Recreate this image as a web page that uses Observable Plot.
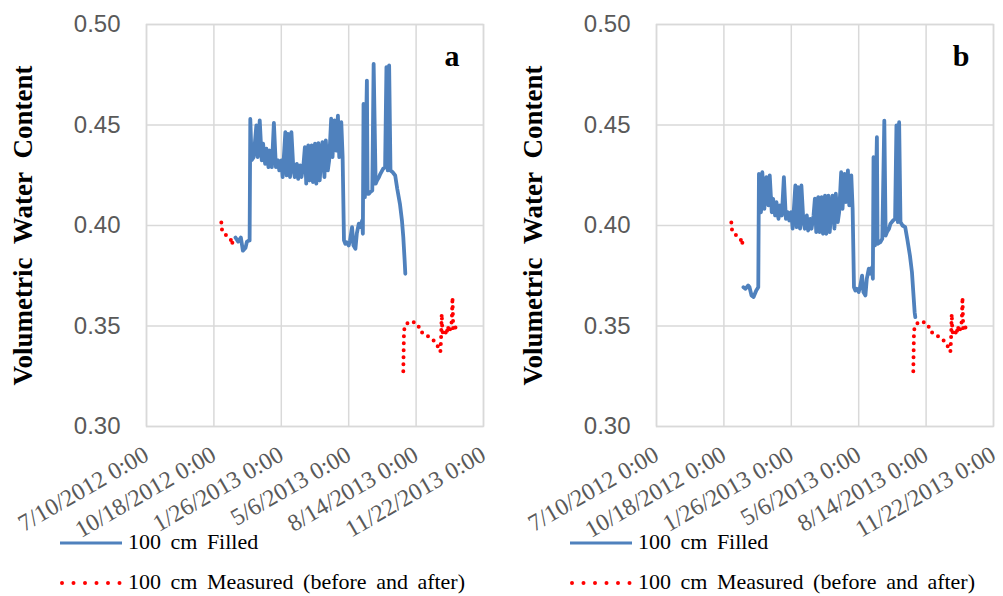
<!DOCTYPE html>
<html>
<head>
<meta charset="utf-8">
<script src="https://cdn.jsdelivr.net/npm/d3@7"></script>
<script src="https://cdn.jsdelivr.net/npm/@observablehq/plot@0.6"></script>
<style>
  body { margin: 0; background: #fff; }
  #wrap { position: relative; width: 1003px; height: 596px; overflow: hidden; background: #fff; }
  .panel { position: absolute; top: 0; }
  #legend { position: absolute; left: 0; top: 0; }
</style>
</head>
<body>
<div id="wrap"></div>
<script>
// ---------- data ----------
const xTickDates = ["2012-07-10", "2012-10-18", "2013-01-26", "2013-05-06", "2013-08-14", "2013-11-22"];
const xTickLabels = ["7/10/2012 0:00", "10/18/2012 0:00", "1/26/2013 0:00", "5/6/2013 0:00", "8/14/2013 0:00", "11/22/2013 0:00"];
const yTicks = [0.30, 0.35, 0.40, 0.45, 0.50];
const yTickLabels = ["0.30", "0.35", "0.40", "0.45", "0.50"];
const yTitle = "Volumetric Water Content";
const panelLetters = ["a", "b"];
const seriesLabels = ["100 cm Filled", "100 cm Measured (before and after)"];

// Panel a – 100 cm Filled
const filledDatesA = [
  "2012-11-19","2012-11-23","2012-11-27","2012-11-30","2012-12-04","2012-12-06","2012-12-09","2012-12-10",
  "2012-12-11","2012-12-13","2012-12-16","2012-12-20","2012-12-22","2012-12-25","2012-12-28","2012-12-30",
  "2013-01-02","2013-01-04","2013-01-07","2013-01-09","2013-01-12","2013-01-15","2013-01-18","2013-01-21",
  "2013-01-23","2013-01-26","2013-01-28","2013-02-01","2013-02-03","2013-02-05","2013-02-08","2013-02-10",
  "2013-02-13","2013-02-15","2013-02-18","2013-02-20","2013-02-23","2013-02-25","2013-02-28","2013-03-02",
  "2013-03-04","2013-03-07","2013-03-09","2013-03-12","2013-03-14","2013-03-17","2013-03-19","2013-03-22",
  "2013-03-24","2013-03-28","2013-03-31","2013-04-02","2013-04-05","2013-04-07","2013-04-10","2013-04-12",
  "2013-04-15","2013-04-17","2013-04-20","2013-04-22","2013-04-25","2013-04-27","2013-04-29","2013-05-01",
  "2013-05-03","2013-05-06","2013-05-08","2013-05-11","2013-05-13","2013-05-16","2013-05-18","2013-05-21",
  "2013-05-23","2013-05-26","2013-05-27","2013-05-28","2013-05-30","2013-06-02","2013-06-03","2013-06-05",
  "2013-06-07","2013-06-10","2013-06-12","2013-06-15","2013-06-17","2013-06-20","2013-06-22","2013-06-26",
  "2013-06-29","2013-07-01","2013-07-03","2013-07-05","2013-07-07","2013-07-10","2013-07-14","2013-07-17",
  "2013-07-21","2013-07-24","2013-07-26","2013-07-28","2013-07-29"
];
const filledValuesA = [
  0.394,0.392,0.394,0.3875,0.389,0.392,0.3925,0.3926,
  0.453,0.4325,0.434,0.4498,0.434,0.4523,0.4324,0.4407,
  0.4307,0.4382,0.429,0.4373,0.429,0.4511,0.429,0.4324,
  0.4274,0.4324,0.4241,0.4465,0.4249,0.4456,0.4241,0.4465,
  0.4274,0.4241,0.4307,0.4232,0.4299,0.4241,0.4307,0.439,
  0.4208,0.4398,0.4224,0.4398,0.4216,0.4407,0.4208,0.441,
  0.4224,0.4415,0.4241,0.4423,0.4274,0.4324,0.4531,0.434,
  0.4523,0.4373,0.4547,0.434,0.4514,0.434,0.3926,0.3909,
  0.3917,0.3901,0.3926,0.3992,0.3901,0.3884,0.3959,0.4009,
  0.3992,0.4025,0.3959,0.4605,0.4141,0.4721,0.4158,0.4158,
  0.4166,0.4174,0.4804,0.4208,0.4224,0.4241,0.4257,0.4282,
  0.429,0.4788,0.4274,0.4796,0.4274,0.4266,0.4249,0.4183,
  0.4108,0.4025,0.3942,0.3826,0.376
];

// Panel b – 100 cm Filled
const filledDatesB = [
  "2012-11-16","2012-11-19","2012-11-23","2012-11-25","2012-11-28","2012-12-01","2012-12-05","2012-12-08",
  "2012-12-09","2012-12-12","2012-12-14","2012-12-17","2012-12-20","2012-12-23","2012-12-25","2012-12-28",
  "2012-12-30","2013-01-02","2013-01-04","2013-01-07","2013-01-09","2013-01-12","2013-01-15","2013-01-18",
  "2013-01-21","2013-01-23","2013-01-26","2013-01-28","2013-02-01","2013-02-03","2013-02-05","2013-02-08",
  "2013-02-10","2013-02-13","2013-02-15","2013-02-18","2013-02-20","2013-02-23","2013-02-25","2013-02-28",
  "2013-03-02","2013-03-04","2013-03-07","2013-03-09","2013-03-12","2013-03-14","2013-03-17","2013-03-19",
  "2013-03-22","2013-03-24","2013-03-28","2013-03-31","2013-04-02","2013-04-05","2013-04-07","2013-04-10",
  "2013-04-12","2013-04-15","2013-04-17","2013-04-20","2013-04-22","2013-04-25","2013-04-27","2013-04-29",
  "2013-05-01","2013-05-03","2013-05-06","2013-05-08","2013-05-11","2013-05-13","2013-05-16","2013-05-18",
  "2013-05-21","2013-05-23","2013-05-26","2013-05-27","2013-05-28","2013-05-30","2013-06-02","2013-06-03",
  "2013-06-07","2013-06-10","2013-06-13","2013-06-15","2013-06-17","2013-06-20","2013-06-22","2013-06-26",
  "2013-06-29","2013-07-01","2013-07-03","2013-07-05","2013-07-07","2013-07-10","2013-07-14","2013-07-17",
  "2013-07-21","2013-07-24","2013-07-26","2013-07-28","2013-07-29"
];
const filledValuesB = [
  0.3693,0.3685,0.3702,0.3693,0.3652,0.3644,0.3677,0.3693,
  0.4257,0.4066,0.4265,0.4083,0.4241,0.41,0.4249,0.4066,
  0.4133,0.405,0.4116,0.4033,0.41,0.405,0.4241,0.4033,
  0.4066,0.4025,0.4066,0.3984,0.4199,0.3992,0.4191,0.3984,
  0.4199,0.4017,0.3984,0.405,0.3975,0.4033,0.3984,0.405,
  0.4133,0.3967,0.4141,0.3967,0.4141,0.3959,0.4149,0.3959,
  0.4149,0.3967,0.4149,0.3984,0.4158,0.4017,0.4066,0.4265,
  0.4083,0.4257,0.4116,0.4274,0.41,0.4249,0.4083,0.3693,
  0.3677,0.3685,0.3669,0.3693,0.3751,0.3669,0.3652,0.3735,
  0.3785,0.376,0.3793,0.3735,0.434,0.3901,0.4439,0.3909,
  0.3917,0.3934,0.4522,0.395,0.3967,0.3984,0.4008,0.4025,
  0.4033,0.4498,0.4017,0.4514,0.4017,0.40,0.3992,0.3934,
  0.3851,0.3768,0.3669,0.3569,0.3544
];

// 100 cm Measured (before and after) – same in both panels
const measuredDates = [
  "2012-10-29","2012-10-30","2012-11-01","2012-11-04","2012-11-07","2012-11-10","2012-11-13","2012-11-14","2012-11-15",
  "2013-07-26","2013-07-27","2013-07-28","2013-07-31","2013-08-03","2013-08-08","2013-08-13","2013-08-17",
  "2013-08-20","2013-08-25","2013-08-30","2013-09-04","2013-09-09","2013-09-14","2013-09-17","2013-09-19",
  "2013-09-20","2013-09-21","2013-09-22","2013-09-24","2013-09-26","2013-09-28","2013-09-30","2013-10-02",
  "2013-10-04","2013-10-06","2013-10-07","2013-10-08","2013-10-10","2013-10-12","2013-10-14"
];
const measuredValues = [
  0.4015,0.398,0.3965,0.3955,0.3945,0.3935,0.3925,0.3935,0.388,
  0.3275,0.347,0.3495,0.351,0.352,0.3522,0.3515,0.3505,
  0.3475,0.3462,0.3452,0.3442,0.3428,0.3405,0.339,0.3372,
  0.343,0.3561,0.347,0.3465,0.348,0.3455,0.350,0.347,
  0.349,0.3525,0.3643,0.349,0.3475,0.350,0.3478
];
const measuredPeriod = [
  "before","before","before","before","before","before","before","before","before",
  "after","after","after","after","after","after","after","after",
  "after","after","after","after","after","after","after","after",
  "after","after","after","after","after","after","after","after",
  "after","after","after","after","after","after","after"
];

// ---------- drawing ----------
const BLUE = "#4f81bd", RED = "#ff0000", GRID = "#d9d9d9", TICKTXT = "#595959";
const SERIF = "'Liberation Serif', 'Times New Roman', serif";
const SANS = "'Liberation Sans', Arial, sans-serif";

const tickDates = xTickDates.map(d => new Date(d));
const xLabelMap = new Map(tickDates.map((d, i) => [+d, xTickLabels[i]]));
const yLabelMap = new Map(yTicks.map((v, i) => [v, yTickLabels[i]]));
const measured = measuredDates.map((d, i) => ({date: new Date(d), v: measuredValues[i], p: measuredPeriod[i]}));

function panel(letter, dates, values) {
  const filled = dates.map((d, i) => ({date: new Date(d), v: values[i]}));
  return Plot.plot({
    width: 500,
    height: 520,
    marginLeft: 146,
    marginRight: 17,
    marginTop: 24,
    marginBottom: 94,
    style: {background: "transparent", overflow: "visible"},
    x: {type: "utc", domain: [tickDates[0], tickDates[tickDates.length - 1]]},
    y: {domain: [0.30, 0.50]},
    marks: [
      Plot.gridX(tickDates, {stroke: GRID, strokeOpacity: 1, strokeWidth: 1.5}),
      Plot.gridY(yTicks, {stroke: GRID, strokeOpacity: 1, strokeWidth: 1.5}),
      Plot.frame({stroke: GRID, strokeWidth: 1.5}),
      Plot.axisY(yTicks, {tickSize: 0, tickPadding: 26, fontSize: 24, fontFamily: SANS, fill: TICKTXT,
        tickFormat: v => yLabelMap.get(v), label: null}),
      Plot.axisX(tickDates, {tickSize: 0, tickPadding: 26, tickRotate: -30, fontSize: 24, fontFamily: SERIF,
        fill: TICKTXT, tickFormat: d => xLabelMap.get(+d), label: null}),
      Plot.line(filled, {x: "date", y: "v", stroke: BLUE, strokeWidth: 3.8, curve: "linear"}),
      Plot.line(measured, {x: "date", y: "v", z: "p", stroke: RED, strokeWidth: 4,
        strokeDasharray: "0 7", strokeLinecap: "round"}),
      Plot.text([letter], {frameAnchor: "top-right", dx: -24, dy: 41, lineAnchor: "bottom",
        fontSize: 30, fontWeight: "bold", fontFamily: SERIF, fill: "#000"}),
      Plot.text([yTitle], {text: d => d.replace(/ /g, "\u2002"), frameAnchor: "left", rotate: -90, dx: -123,
        textAnchor: "middle", lineAnchor: "middle", fontSize: 27, fontWeight: "bold", fontFamily: SERIF, fill: "#000"})
    ]
  });
}

const wrap = document.getElementById("wrap");
const pa = panel(panelLetters[0], filledDatesA, filledValuesA);
pa.classList.add("panel"); pa.style.left = "0px";
wrap.appendChild(pa);
const pb = panel(panelLetters[1], filledDatesB, filledValuesB);
pb.classList.add("panel"); pb.style.left = "510px";
wrap.appendChild(pb);

// legend (below the charts)
const NS = "http://www.w3.org/2000/svg";
const leg = document.createElementNS(NS, "svg");
leg.setAttribute("id", "legend");
leg.setAttribute("width", 1003);
leg.setAttribute("height", 596);
let html = "";
[0, 510].forEach(ox => {
  html += `<line x1="${ox + 60}" x2="${ox + 122}" y1="543" y2="543" stroke="${BLUE}" stroke-width="3.2"/>`;
  html += `<text x="${ox + 128}" y="549" font-family="${SERIF}" font-size="22" word-spacing="4" fill="#000">${seriesLabels[0]}</text>`;
  html += `<line x1="${ox + 62}" x2="${ox + 122}" y1="583" y2="583" stroke="${RED}" stroke-width="4" stroke-linecap="round" stroke-dasharray="0 11.5"/>`;
  html += `<text x="${ox + 128}" y="589" font-family="${SERIF}" font-size="22" word-spacing="4" fill="#000">${seriesLabels[1]}</text>`;
});
leg.innerHTML = html;
wrap.appendChild(leg);
</script>
</body>
</html>
